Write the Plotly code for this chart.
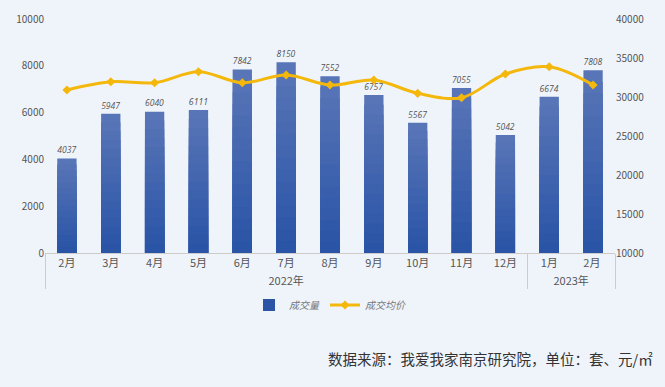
import plotly.graph_objects as go

years = ["2022年"] * 11 + ["2023年"] * 2
months = ["2月", "3月", "4月", "5月", "6月", "7月", "8月", "9月", "10月", "11月", "12月", "1月", "2月 "]
volume = [4037, 5947, 6040, 6111, 7842, 8150, 7552, 6757, 5567, 7055, 5042, 6674, 7808]
avg_price = [30900, 31960, 31830, 33240, 31830, 32820, 31540, 32180, 30470, 29910, 32950, 33880, 31540]

x = [years, months]

top_rgb = (88, 117, 183)
bot_rgb = (42, 84, 166)
steps = 16

fig = go.Figure()
for i in range(steps):
    frac = 1 - i / steps
    t = i / (steps - 1)
    c = tuple(round(top_rgb[k] + (bot_rgb[k] - top_rgb[k]) * t) for k in range(3))
    fig.add_trace(go.Bar(
        x=x, y=[v * frac for v in volume],
        name="成交量",
        marker=dict(color="rgb(%d,%d,%d)" % c, line=dict(width=0)),
        width=0.44,
        showlegend=(i == steps - 1),
        legendrank=1,
        text=[str(v) for v in volume] if i == 0 else None,
        textposition="outside" if i == 0 else "none",
        textfont=dict(size=11.5, color="#555555", family="Open Sans", style="italic"),
        cliponaxis=False,
        hoverinfo="skip" if i else None,
    ))

fig.add_trace(go.Scatter(
    x=x, y=avg_price, name="成交均价", yaxis="y2",
    mode="lines+markers",
    line=dict(color="#F4B80C", width=3, shape="spline", smoothing=1),
    marker=dict(symbol="diamond", size=7, color="#F4B80C"),
    legendrank=2,
))

fig.update_layout(
    width=665, height=387, autosize=False,
    paper_bgcolor="#EFF4FB", plot_bgcolor="#EFF4FB",
    barmode="overlay",
    margin=dict(l=45, r=50, t=19, b=134, autoexpand=False),
    font=dict(family="Noto Sans CJK SC, Open Sans", size=10, color="#555555"),
    xaxis=dict(
        type="multicategory", automargin=False, range=[-0.5, 12.5],
        showline=True, linecolor="#CCCCCC", linewidth=1,
        showgrid=False, ticks="",
        showdividers=True, dividercolor="#CCCCCC", dividerwidth=1,
        tickfont=dict(size=11, color="#555555"),
    ),
    yaxis=dict(
        range=[0, 10000], dtick=2000, showgrid=False, zeroline=False,
        tickformat="d", automargin=False,
        tickfont=dict(size=10, color="#555555"), ticks="",
    ),
    yaxis2=dict(
        range=[10000, 40000], dtick=5000, overlaying="y", side="right",
        showgrid=False, zeroline=False, tickformat="d", automargin=False,
        tickfont=dict(size=10, color="#555555"), ticks="",
    ),
    legend=dict(
        orientation="h", x=0.5, xanchor="center",
        yref="container", y=1 - 305 / 387, yanchor="middle",
        font=dict(size=10, color="#777777", style="italic"), bgcolor="rgba(0,0,0,0)",
        itemwidth=30,
    ),
    annotations=[dict(
        text="数据来源：我爱我家南京研究院，单位：套、元/㎡",
        xref="paper", yref="paper", x=1.07, y=-0.449,
        xanchor="right", yanchor="middle", showarrow=False,
        font=dict(size=14.5, color="#333333"),
    )],
)

post = """
document.body.style.margin = '0';
document.body.style.padding = '0';
document.body.style.overflow = 'hidden';
var gd = document.getElementById('{plot_id}');
Plotly.relayout(gd, {width: 665, height: 387});
"""

fig.write_html("out.html", config={"responsive": False, "displayModeBar": False}, post_script=post)
